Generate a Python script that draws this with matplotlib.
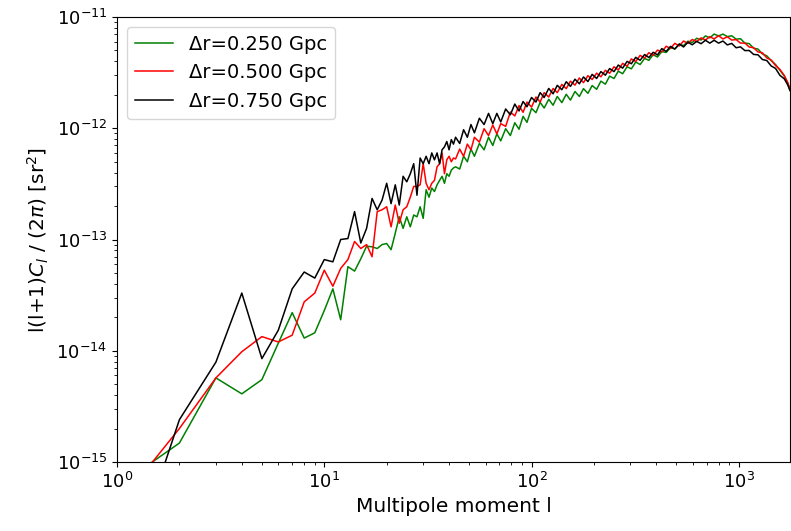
import numpy as np
import matplotlib
matplotlib.use("Agg")
import matplotlib.pyplot as plt

# multipole moments: every l up to 42, then a thinned grid up to lmax
l_low = list(range(1, 43))
l_high = [43, 45, 47, 49, 51, 53, 56, 59, 62, 65, 68, 71, 75, 79, 83, 87, 91, 95,
          100, 105, 110, 115, 121, 127, 133, 140, 147, 154, 162, 170, 178, 187, 196,
          206, 216, 227, 238, 250, 262, 275, 289, 303, 318, 334, 351, 368, 386, 405,
          425, 446, 468, 491, 516, 541, 568, 596, 626, 657, 690, 724, 760, 798, 838,
          880, 924, 970, 1018, 1069, 1122, 1178, 1237, 1299, 1364, 1432, 1503, 1578,
          1657, 1720, 1765]

# spectra in units of 1e-13 sr^2
green_low = [0.006, 0.0148, 0.057, 0.041, 0.055, 0.117, 0.22, 0.13, 0.145, 0.23,
             0.36, 0.19, 0.57, 0.52, 0.67, 0.87, 0.86, 0.83, 0.9, 0.92,
             0.81, 1.14, 1.6, 1.26, 1.6, 1.3, 1.66, 1.6, 1.97, 1.55,
             2.8, 2.4, 2.9, 2.7, 3.1, 3.4, 3.7, 3.2, 3.9, 3.7, 4.2, 4.4]
green_high = [4.5, 4.3, 5.6, 5.0, 6.5, 5.6, 7.3, 6.4, 8.3, 7.0, 8.9, 7.7, 9.9, 8.6,
              11.2, 9.8, 12.8, 11.3, 15.1, 13.8, 17.1, 15.2, 18.2, 16.1, 19.3, 17.0,
              20.2, 17.9, 21.4, 19.3, 22.7, 20.6, 24.2, 22.4, 26.5, 24.9, 29.4, 28.0,
              32.6, 30.9, 35.7, 34.2, 39.4, 37.4, 42.4, 40.8, 45.8, 43.7, 48.9, 48.0,
              53.0, 51.7, 56.9, 55.3, 60.6, 59.0, 64.4, 62.1, 67.6, 65.0, 70.2, 67.6,
              70.2, 66.6, 67.8, 63.2, 63.8, 58.3, 57.6, 52.4, 51.5, 46.6, 44.7, 40.6,
              37.4, 33.2, 29.5, 25.5, 22.2]

red_low = [0.004, 0.020, 0.057, 0.098, 0.134, 0.12, 0.138, 0.275, 0.33, 0.53,
           0.38, 0.55, 0.66, 0.96, 0.83, 0.9, 0.7, 1.78, 1.85, 1.97,
           1.3, 2.04, 1.4, 1.85, 1.97, 2.4, 3.0, 3.0, 3.1, 4.8,
           3.2, 2.8, 3.2, 3.4, 4.5, 4.8, 6.0, 3.9, 5.2, 5.6, 5.0, 5.4]
red_high = [5.3, 6.5, 5.6, 7.2, 6.4, 8.3, 7.5, 9.9, 8.6, 10.7, 8.9, 11.0, 10.4, 14.0,
            12.9, 16.0, 13.9, 17.2, 15.5, 19.1, 17.2, 20.9, 19.1, 22.8, 20.9, 24.8,
            22.7, 26.5, 24.4, 28.3, 25.7, 29.7, 27.4, 31.3, 29.0, 33.2, 31.2, 35.7,
            33.4, 38.3, 36.1, 42.0, 39.8, 45.2, 42.7, 47.8, 45.1, 50.4, 48.5, 54.6,
            52.1, 58.0, 54.9, 60.8, 58.0, 62.8, 60.1, 64.9, 62.1, 66.6, 63.5, 68.0,
            63.5, 66.4, 62.0, 62.7, 58.3, 58.3, 53.7, 53.0, 48.5, 47.6, 42.9, 41.0,
            36.6, 33.8, 29.7, 25.8, 22.4]

black_low = [0.0005, 0.024, 0.079, 0.33, 0.085, 0.153, 0.36, 0.51, 0.45, 0.66,
             0.63, 1.0, 1.02, 1.78, 0.93, 1.26, 2.34, 1.85, 2.26, 3.2,
             2.1, 3.1, 2.04, 3.7, 3.3, 3.9, 4.8, 2.5, 5.4, 4.8,
             5.6, 4.8, 6.0, 5.2, 6.0, 4.8, 6.4, 6.8, 7.6, 6.4, 7.9, 7.2]
black_high = [8.3, 7.3, 9.7, 8.3, 10.8, 9.1, 12.3, 10.8, 13.6, 11.0, 13.6, 11.4, 14.9,
              13.2, 16.5, 14.3, 17.4, 15.6, 18.9, 17.2, 20.9, 18.9, 22.8, 20.4, 24.3,
              22.2, 26.2, 23.8, 27.6, 25.1, 28.9, 26.3, 30.5, 28.0, 32.3, 30.0, 34.4,
              32.3, 37.0, 34.7, 39.9, 38.0, 43.4, 40.8, 46.0, 43.2, 48.2, 45.6, 52.0,
              49.0, 54.4, 51.5, 57.2, 53.8, 59.3, 56.3, 60.4, 57.5, 61.8, 58.2, 61.8,
              58.2, 60.8, 56.1, 57.9, 52.9, 53.9, 49.9, 50.0, 46.1, 45.7, 41.5, 40.6,
              36.3, 34.5, 29.9, 27.8, 24.6, 21.8]

labels = ["Δr=0.250 Gpc", "Δr=0.500 Gpc", "Δr=0.750 Gpc"]
colors = ["green", "red", "black"]

ell = np.array(l_low + l_high)
unit = 1e-13
series = [np.array(green_low + green_high) * unit,
          np.array(red_low + red_high) * unit,
          np.array(black_low + black_high) * unit]

fig = plt.figure(figsize=(7.91, 5.31), dpi=100)
ax = fig.add_axes([117 / 791, 69 / 531, 673 / 791, 445 / 531])

for cl, lab, c in zip(series, labels, colors):
    ax.plot(ell, cl, color=c, lw=1.1, label=lab)

ax.set_xscale("log")
ax.set_yscale("log")
ax.set_xlim(1, 1765)
ax.set_ylim(1e-15, 1e-11)
ax.tick_params(labelsize=13)
ax.set_xlabel("Multipole moment l", fontsize=14.5)
ax.set_ylabel(r"l(l+1)$C_l$ / (2$\pi$) [sr$^2$]", fontsize=14.5)
ax.legend(loc="upper left", fontsize=14)

fig.savefig("out.png", dpi=100)
